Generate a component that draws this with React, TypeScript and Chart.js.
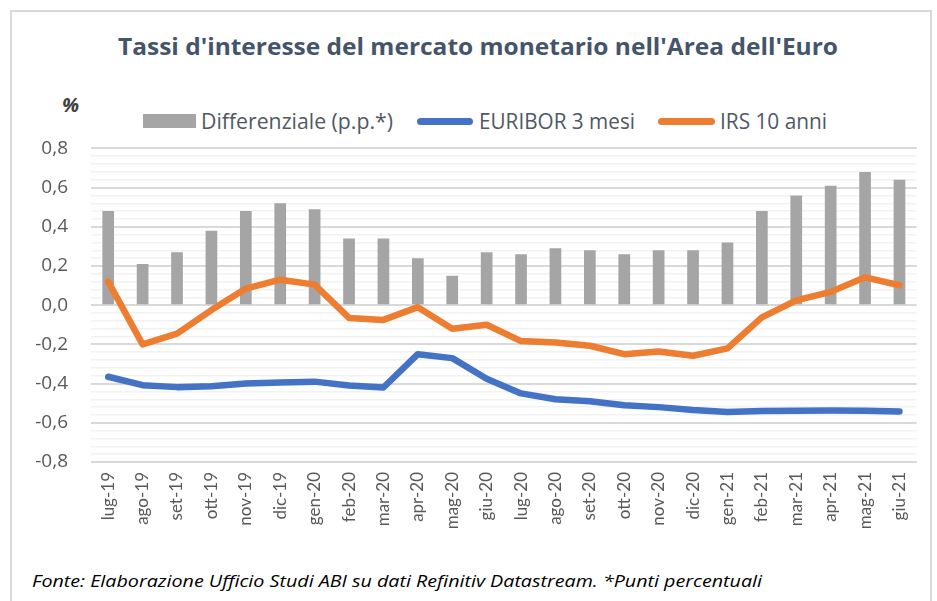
import React, { useEffect, useLayoutEffect, useRef } from "react";
import { Chart, registerables } from "chart.js";

Chart.register(...registerables);

const categories = [
  "lug-19", "ago-19", "set-19", "ott-19", "nov-19", "dic-19", "gen-20", "feb-20",
  "mar-20", "apr-20", "mag-20", "giu-20", "lug-20", "ago-20", "set-20", "ott-20",
  "nov-20", "dic-20", "gen-21", "feb-21", "mar-21", "apr-21", "mag-21", "giu-21",
];

const differenziale = [
  0.48, 0.21, 0.27, 0.38, 0.48, 0.52, 0.49, 0.34, 0.34, 0.24, 0.15, 0.27,
  0.26, 0.29, 0.28, 0.26, 0.28, 0.28, 0.32, 0.48, 0.56, 0.61, 0.68, 0.64,
];

const euribor3m = [
  -0.365, -0.408, -0.418, -0.413, -0.4, -0.394, -0.39, -0.41, -0.42, -0.25, -0.27, -0.375,
  -0.45, -0.48, -0.49, -0.51, -0.52, -0.535, -0.545, -0.54, -0.538, -0.537, -0.538, -0.542,
];

const irs10y = [
  0.12, -0.2, -0.145, -0.025, 0.085, 0.13, 0.105, -0.065, -0.075, -0.01, -0.12, -0.1,
  -0.183, -0.19, -0.207, -0.25, -0.236, -0.258, -0.22, -0.062, 0.025, 0.068, 0.142, 0.102,
];

const yMin = -0.8;
const yMax = 0.8;
const yMinorStep = 0.04;

const FONT = "'Open Sans', Lato, sans-serif";
const AXIS_FONT = "Lato, 'Open Sans', sans-serif";

function isMajor(v: number) {
  return Math.round(v * 100) % 20 === 0;
}

function fmt(v: number) {
  return v.toFixed(1).replace(".", ",");
}

function FitText({ width, style, children }: { width: number; style: any; children: any }) {
  const ref = useRef<HTMLDivElement | null>(null);
  useLayoutEffect(() => {
    const el = ref.current;
    if (!el) return;
    el.style.transform = "none";
    const w = el.getBoundingClientRect().width;
    if (w > 0) el.style.transform = `scaleX(${width / w})`;
  }, [width]);
  return (
    <div
      ref={ref}
      style={{ ...style, position: "absolute", whiteSpace: "nowrap", transformOrigin: "left center", display: "inline-block" }}
    >
      {children}
    </div>
  );
}

export default function App() {
  const canvasRef = useRef<HTMLCanvasElement | null>(null);

  useEffect(() => {
    const canvas = canvasRef.current;
    if (!canvas) return;
    const chart = new Chart(canvas, {
      type: "bar",
      data: {
        labels: categories,
        datasets: [
          {
            type: "line",
            label: "EURIBOR 3 mesi",
            data: euribor3m,
            borderColor: "#4472C4",
            backgroundColor: "#4472C4",
            borderWidth: 6.5,
            pointRadius: 0,
            borderCapStyle: "round",
            borderJoinStyle: "round",
            tension: 0,
            order: 1,
          },
          {
            type: "line",
            label: "IRS 10 anni",
            data: irs10y,
            borderColor: "#ED7D31",
            backgroundColor: "#ED7D31",
            borderWidth: 6.5,
            pointRadius: 0,
            borderCapStyle: "round",
            borderJoinStyle: "round",
            tension: 0,
            order: 0,
          },
          {
            type: "bar",
            label: "Differenziale (p.p.*)",
            data: differenziale,
            backgroundColor: "#A5A5A5",
            borderWidth: 0,
            barPercentage: 0.34,
            categoryPercentage: 1,
            order: 2,
          },
        ],
      },
      options: {
        animation: false,
        responsive: false,
        maintainAspectRatio: false,
        layout: { padding: { top: 6, right: 6, left: 0, bottom: 0 } },
        plugins: {
          legend: { display: false },
          title: { display: false },
          tooltip: { enabled: false },
        },
        scales: {
          x: {
            grid: { display: false, drawTicks: false },
            border: { display: false },
            ticks: {
              color: "#595959",
              font: { family: AXIS_FONT, size: 17 },
              minRotation: 90,
              maxRotation: 90,
              autoSkip: false,
              padding: 10,
            },
            afterFit: (scale: any) => {
              scale.height = 68;
            },
          },
          y: {
            min: yMin,
            max: yMax,
            border: { display: false },
            grid: {
              drawTicks: false,
              color: (ctx: any) => (isMajor(ctx.tick.value) ? "#D9D9D9" : "#F2F2F2"),
              lineWidth: (ctx: any) => (isMajor(ctx.tick.value) ? 2 : 1.5),
            },
            ticks: {
              stepSize: yMinorStep,
              autoSkip: false,
              color: "#595959",
              font: { family: FONT, size: 19 },
              padding: 23,
              callback: (v: any) => (isMajor(Number(v)) ? fmt(Number(v)) : ""),
            },
            afterFit: (scale: any) => {
              scale.width = 81;
            },
          },
        },
      },
    } as any);
    return () => chart.destroy();
  }, []);

  const legendText = { fontSize: 21, color: "#505866", top: 107, lineHeight: "28px" };

  return (
    <div
      style={{
        position: "fixed",
        left: 0,
        top: 0,
        width: 937,
        height: 601,
        background: "#fff",
        overflow: "hidden",
        fontFamily: FONT,
      }}
    >
      <div
        style={{
          position: "absolute",
          left: 10,
          top: 10,
          width: 918,
          height: 640,
          border: "2px solid #D9D9D9",
        }}
      />
      <FitText
        width={720}
        style={{ left: 118, top: 29, fontSize: 24, fontWeight: 700, color: "#44546A" }}
      >
        Tassi d'interesse del mercato monetario nell'Area dell'Euro
      </FitText>
      <div
        style={{
          position: "absolute",
          left: 62,
          top: 91,
          fontSize: 20,
          fontWeight: 700,
          fontStyle: "italic",
          color: "#404040",
        }}
      >
        %
      </div>
      <div style={{ position: "absolute", left: 143, top: 114, width: 53, height: 14, background: "#A5A5A5" }} />
      <FitText width={192} style={{ ...legendText, left: 201 }}>
        Differenziale (p.p.*)
      </FitText>
      <div style={{ position: "absolute", left: 417, top: 118, width: 56, height: 7, borderRadius: 4, background: "#4472C4" }} />
      <FitText width={156} style={{ ...legendText, left: 479 }}>
        EURIBOR 3 mesi
      </FitText>
      <div style={{ position: "absolute", left: 658, top: 118, width: 57, height: 7, borderRadius: 4, background: "#ED7D31" }} />
      <FitText width={107} style={{ ...legendText, left: 720 }}>
        IRS 10 anni
      </FitText>
      <div style={{ position: "absolute", left: 10, top: 114, width: 920, height: 416 }}>
        <canvas ref={canvasRef} width={920} height={416} style={{ width: 920, height: 416 }} />
      </div>
      <FitText
        width={730}
        style={{ left: 32, top: 569, fontSize: 17, fontStyle: "italic", color: "#000" }}
      >
        Fonte: Elaborazione Ufficio Studi ABI su dati Refinitiv Datastream. *Punti percentuali
      </FitText>
    </div>
  );
}
